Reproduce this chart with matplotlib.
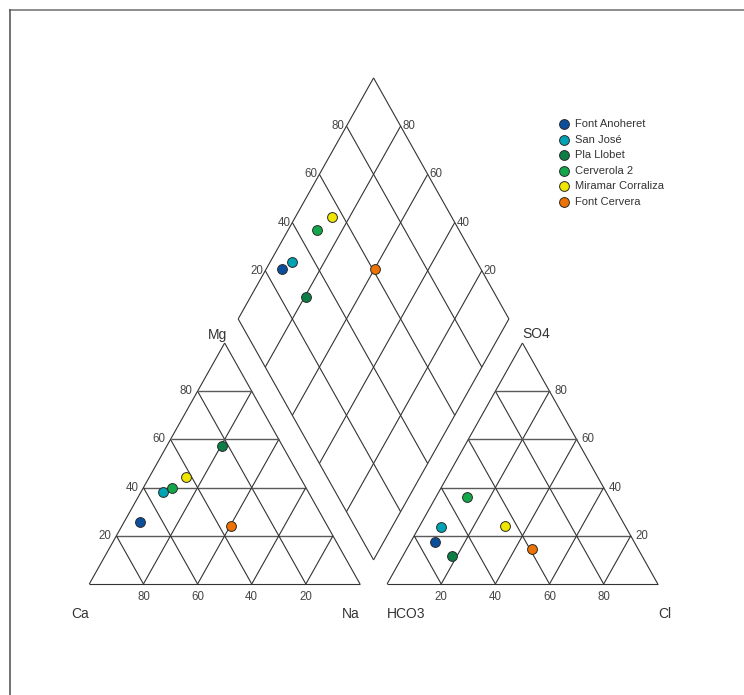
import matplotlib
matplotlib.use('Agg')
import matplotlib.pyplot as plt
from matplotlib.lines import Line2D

plt.rcParams['font.family'] = ['Liberation Sans', 'DejaVu Sans']

# ---- data (percent of meq) ----
samples = ['Font Anoheret', 'San José', 'Pla Llobet', 'Cerverola 2',
           'Miramar Corraliza', 'Font Cervera']
colors = ['#0b4f9c', '#00a3b4', '#0b7d45', '#12a84a', '#eee500', '#ee7203']
ca = [68.5, 53.5, 22.3, 49.5, 42.0, 35.6]
mg = [25.6, 38.3, 57.3, 39.7, 44.5, 24.2]
na = [5.9, 8.2, 20.4, 10.8, 13.5, 40.2]
hco3 = [73.6, 68.2, 70.4, 52.4, 44.4, 39.2]
so4 = [17.6, 23.5, 11.5, 36.2, 24.2, 14.4]
cl = [8.8, 8.3, 18.1, 11.4, 31.4, 46.4]
ticks = [20, 40, 60, 80]

W, H = 744, 695
fig = plt.figure(figsize=(W / 100, H / 100), dpi=100)
ax = fig.add_axes([89.3 / W, (H - 584) / H, 568.5 / W, 506.1 / H])
ax.set_xlim(0, 2.1)
ax.set_ylim(0, 2.1)
ax.axis('off')

PX = 2.1 / 568.5   # one pixel in x units
PY = 2.1 / 506.1   # one pixel in y units

lc = '#333333'
hc = '#5a5a5a'
lw = 0.8


def seg(p, q, color=lc, w=lw):
    ax.plot([p[0], q[0]], [p[1], q[1]], color=color, lw=w,
            solid_capstyle='butt', clip_on=False)


# ---- left (cation) triangle ----
seg((0, 0), (1, 0)); seg((1, 0), (0.5, 1)); seg((0.5, 1), (0, 0))
for t in ticks:
    f = t / 100
    seg((f / 2, f), (1 - f / 2, f), hc, 1.0)
    seg((f, 0), (f + (1 - f) / 2, 1 - f))
    seg((1 - f, 0), ((1 - f) / 2, 1 - f))

# ---- right (anion) triangle ----
o = 1.1
seg((o, 0), (o + 1, 0)); seg((o + 1, 0), (o + 0.5, 1)); seg((o + 0.5, 1), (o, 0))
for t in ticks:
    f = t / 100
    seg((o + f / 2, f), (o + 1 - f / 2, f), hc, 1.0)
    seg((o + f, 0), (o + f + (1 - f) / 2, 1 - f))
    seg((o + 1 - f, 0), (o + (1 - f) / 2, 1 - f))

# ---- diamond ----
B = (1.05, 0.1); L = (0.55, 1.1); T = (1.05, 2.1); R = (1.55, 1.1)
seg(B, L); seg(L, T); seg(T, R); seg(R, B)
for t in ticks:
    f = t / 100
    seg((B[0] + f * (R[0] - B[0]), B[1] + f * (R[1] - B[1])),
        (L[0] + f * (T[0] - L[0]), L[1] + f * (T[1] - L[1])))
    seg((B[0] + f * (L[0] - B[0]), B[1] + f * (L[1] - B[1])),
        (R[0] + f * (T[0] - R[0]), R[1] + f * (T[1] - R[1])))

# ---- tick labels ----
tc = '#454545'
tfs = 8.3
for t in ticks:
    f = t / 100
    # Mg on left edge
    ax.text(f / 2 - 5 * PX, f, str(t), ha='right', va='center', fontsize=tfs, color=tc)
    # Ca along bottom
    ax.text(1 - f, -13.3 * PY, str(t), ha='center', va='center', fontsize=tfs, color=tc)
    # Cl along bottom
    ax.text(o + f, -13.3 * PY, str(t), ha='center', va='center', fontsize=tfs, color=tc)
    # SO4 on right edge
    ax.text(o + 1 - f / 2 + 5 * PX, f, str(t), ha='left', va='center', fontsize=tfs, color=tc)
    # diamond edges
    ax.text(L[0] + 0.5 * f - 2 * PX, L[1] + f, str(t), ha='right', va='center',
            fontsize=tfs, color=tc)
    ax.text(R[0] - 0.5 * f + 2 * PX, R[1] + f, str(t), ha='left', va='center',
            fontsize=tfs, color=tc)

# ---- corner labels ----
cc = '#333333'
cfs = 10
ax.text(0.5 + 2 * PX, 1 + 8 * PY, 'Mg', ha='right', va='center', fontsize=cfs, color=cc)
ax.text(o + 0.5, 1 + 9 * PY, 'SO4', ha='left', va='center', fontsize=cfs, color=cc)
ax.text(0, -30 * PY, 'Ca', ha='right', va='center', fontsize=cfs, color=cc)
ax.text(1, -30 * PY, 'Na', ha='right', va='center', fontsize=cfs, color=cc)
ax.text(o, -30 * PY, 'HCO3', ha='left', va='center', fontsize=cfs, color=cc)
ax.text(o + 1, -30 * PY, 'Cl', ha='left', va='center', fontsize=cfs, color=cc)

# ---- data points ----
ms = 50
handles = []
for i, name in enumerate(samples):
    cx = na[i] / 100 + 0.5 * mg[i] / 100
    cy = mg[i] / 100
    axx = o + cl[i] / 100 + 0.5 * so4[i] / 100
    ayy = so4[i] / 100
    s = (axx - cx) + (ayy - cy) / 2
    px = cx + 0.5 * s
    py = cy + s
    h = ax.scatter([cx, axx, px], [cy, ayy, py], s=ms, color=colors[i],
                   edgecolors='#2a2a2a', linewidths=0.7, zorder=5,
                   clip_on=False, label=name)
    handles.append(h)

leg = fig.legend(handles=handles, labels=samples, loc='upper left',
                 bbox_to_anchor=(558 / W, 1 - 119 / H), frameon=False,
                 fontsize=8.0, handlelength=1.0, handletextpad=0.5,
                 labelspacing=0.5, borderpad=0, borderaxespad=0,
                 scatterpoints=1)
for txt in leg.get_texts():
    txt.set_color('#333333')

# ---- outer frame (partially visible) ----
fig.add_artist(Line2D([10 / W, 1], [1 - 10 / H, 1 - 10 / H], transform=fig.transFigure,
                      color='#8c8c8c', lw=1.4))
fig.add_artist(Line2D([10 / W, 10 / W], [1 - 10 / H, 0], transform=fig.transFigure,
                      color='#5a5a5a', lw=1.2))

fig.savefig('out.png', dpi=100, facecolor='white')
